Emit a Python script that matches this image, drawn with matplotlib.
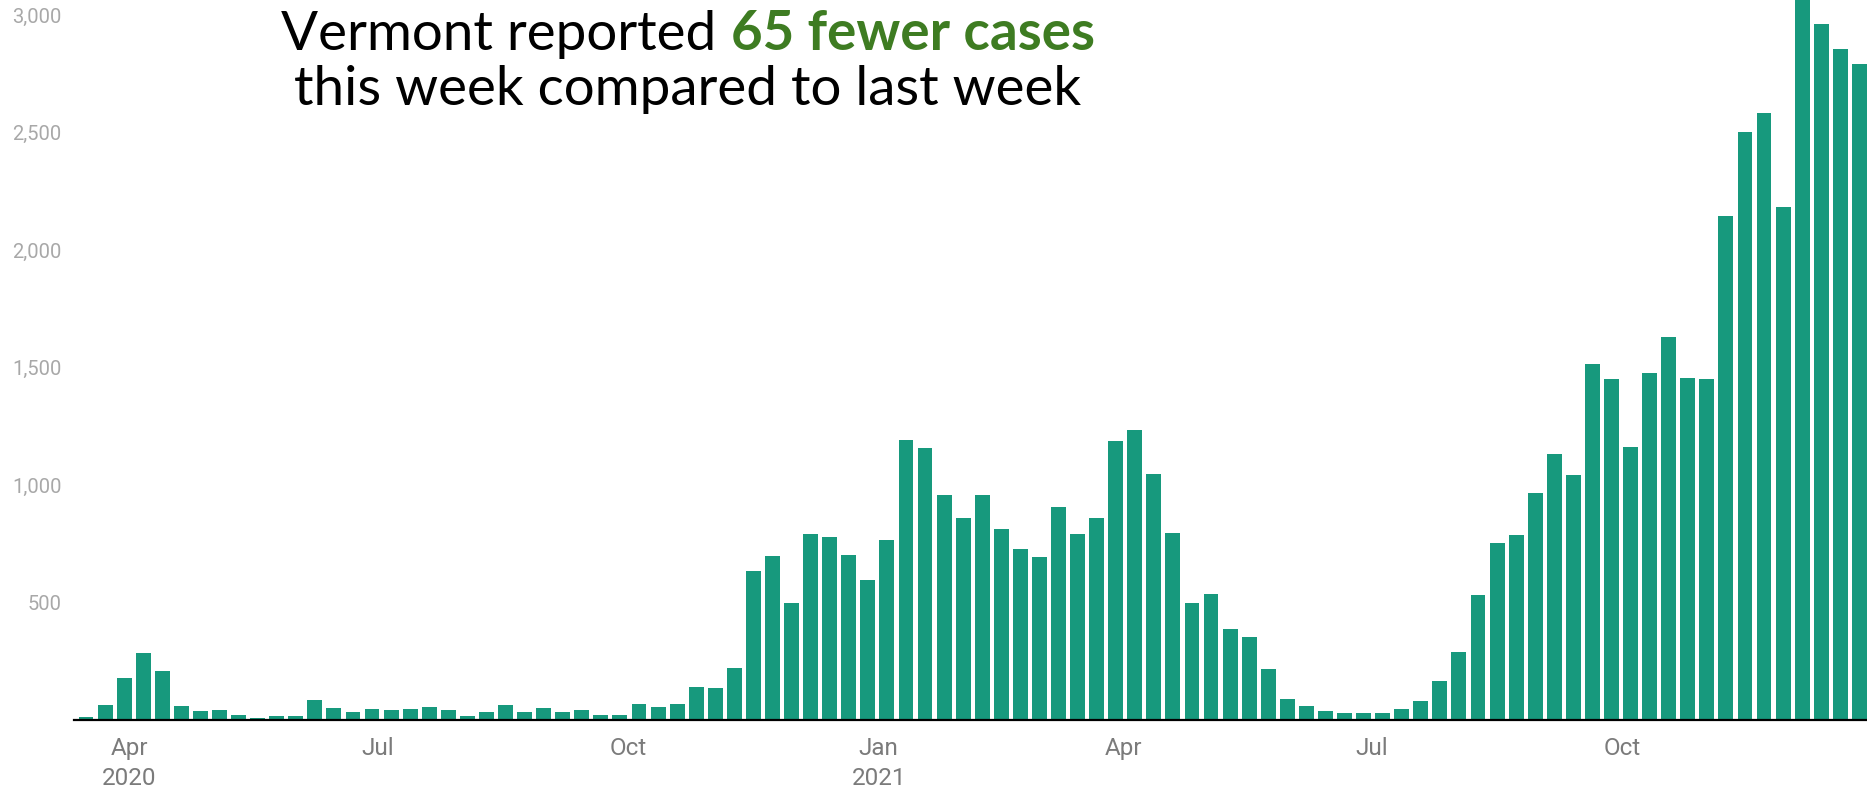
import matplotlib
matplotlib.use('Agg')
import matplotlib.pyplot as plt
import pandas as pd

# weekly reported cases, Vermont, weeks starting mid-March 2020
week_start = pd.Timestamp('2020-03-16')
cases = [14, 62, 177, 284, 208, 58, 37, 41, 23, 10,
         18, 18, 85, 50, 33, 45, 41, 45, 54, 41,
         18, 33, 62, 33, 50, 33, 41, 23, 23, 67,
         54, 67, 142, 138, 223, 632, 699, 500, 791, 778,
         703, 597, 768, 1193, 1157, 959, 858, 959, 812, 729,
         693, 906, 791, 858, 1188, 1232, 1047, 796, 500, 535,
         386, 355, 218, 91, 60, 38, 30, 30, 30, 47,
         82, 166, 289, 532, 753, 788, 964, 1132, 1044, 1516,
         1453, 1163, 1475, 1631, 1454, 1450, 2146, 2503, 2583, 2182,
         3150, 2963, 2855, 2790]

tick_dates = ['2020-04-01', '2020-07-01', '2020-10-01', '2021-01-01',
              '2021-04-01', '2021-07-01', '2021-10-01']
tick_labels = ['Apr\n2020', 'Jul', 'Oct', 'Jan\n2021', 'Apr', 'Jul', 'Oct']
y_ticks = [500, 1000, 1500, 2000, 2500, 3000]
y_labels = ['500', '1,000', '1,500', '2,000', '2,500', '3,000']

W, H = 1867, 792
fig = plt.figure(figsize=(W / 100, H / 100), dpi=100)
ax = fig.add_axes([74 / W, 72 / H, (W - 74) / W, 720 / H])

x = list(range(len(cases)))
ax.bar(x, cases, width=0.78, color='#17997d', zorder=2)

ax.set_xlim(-0.63, 93.4)
ax.set_ylim(0, 3064)

for s in ['top', 'right', 'left']:
    ax.spines[s].set_visible(False)
ax.spines['bottom'].set_linewidth(1.6)
ax.spines['bottom'].set_color('black')
ax.spines['bottom'].set_zorder(3)

ax.set_yticks(y_ticks)
ax.set_yticklabels(y_labels, fontsize=14.5, color='#a8a8a8', family='Roboto')
ax.tick_params(axis='y', length=0, pad=9)

tick_pos = [(pd.Timestamp(d) - week_start).days / 7 for d in tick_dates]
ax.set_xticks(tick_pos)
ax.set_xticklabels(tick_labels, fontsize=17.5, color='#7b7b7b', family='Roboto',
                   linespacing=1.4)
ax.tick_params(axis='x', length=0, pad=12)

# two-colour headline, centred; size fitted to the reference line width
fig.canvas.draw()
r = fig.canvas.get_renderer()
cx = 688 / W
y1 = 1 - 50 / H
y2 = 1 - 105 / H
fs = 35
t_c = fig.text(cx, y2, 'this week compared to last week', fontsize=fs,
               family='Lato', color='black', ha='center', va='baseline')
fs = fs * 787 / t_c.get_window_extent(r).width
t_c.set_fontsize(fs)
t_a = fig.text(0, y1, 'Vermont reported ', fontsize=fs, family='Lato',
               color='black', va='baseline')
t_b = fig.text(0, y1, '65 fewer cases', fontsize=fs, family='Lato',
               fontweight='bold', color='#3e7c22', va='baseline')
wa = t_a.get_window_extent(r).width / W
wb = t_b.get_window_extent(r).width / W
x0 = cx - (wa + wb) / 2
t_a.set_x(x0)
t_b.set_x(x0 + wa)

fig.savefig('out.png', dpi=100)
